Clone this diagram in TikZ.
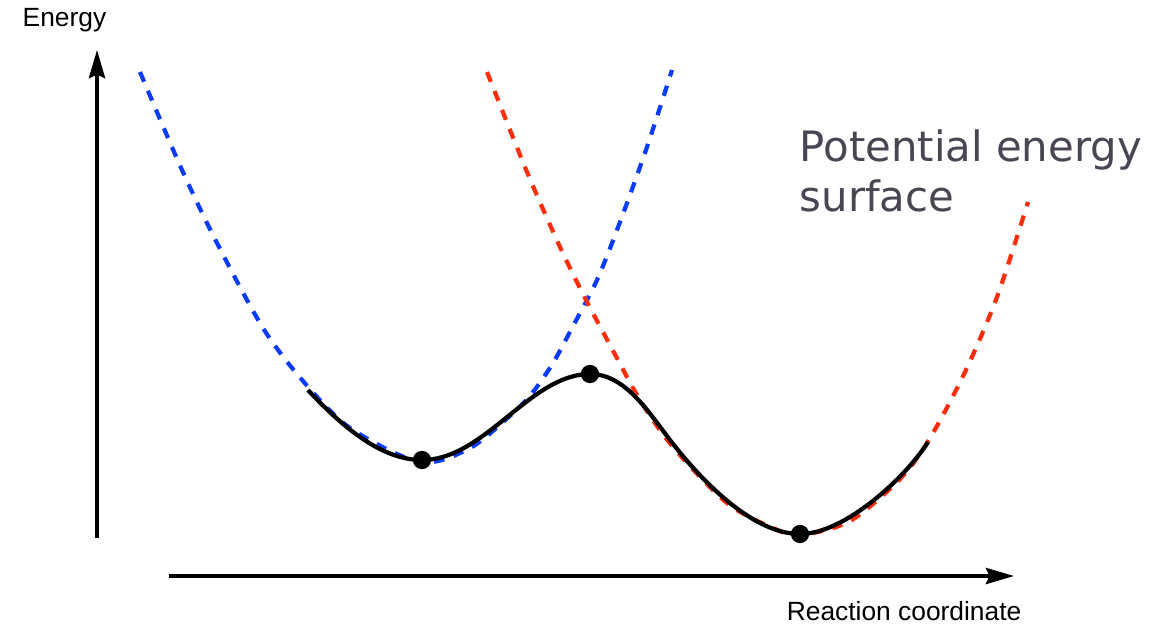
\documentclass[tikz,border=0pt]{standalone}
\usepackage{fontspec}
\usepackage{xcolor}
\usetikzlibrary{arrows.meta, positioning, calc}
\newfontfamily\axisfont{Liberation Sans}
\newfontfamily\pesfont{DejaVu Sans}
\definecolor{PESBlue}{HTML}{0A3CFF}
\definecolor{PESRed}{HTML}{FF2D0A}
\definecolor{PESGray}{HTML}{4A4453}
\tikzset{
    axisarrow/.style={
        -{Stealth[length=8pt, width=4.6pt, inset=1pt]},
        line width=1pt,
        black
    },
    axislabel/.style={
        font=\axisfont\fontsize{7.5}{9}\selectfont,
        inner sep=0pt
    },
    diabatic/.style={
        draw=#1,
        line width=1.2pt,
        dash pattern=on 3pt off 2.8pt
    },
    diabatic/.default=PESBlue,
    pescurve/.style={
        draw=black,
        line width=1.2pt
    },
    stationary/.style={
        circle,
        fill=black,
        minimum size=5.2pt,
        inner sep=0pt
    }
}

\begin{document}
\begin{tikzpicture}
    \useasboundingbox (0,0) rectangle (11.55,6.25);

    % Axes
    \coordinate (origin) at (0.97,0.87);
    \coordinate (etop) at (0.97,5.75);
    \coordinate (rstart) at (1.69,0.49);
    \coordinate (rend) at (10.14,0.49);
    \draw[axisarrow] (origin) -- (etop);
    \draw[axisarrow] (rstart) -- (rend);
    \node[axislabel, anchor=base west] (energy) at (0.22,5.99) {Energy};
    \node[axislabel, anchor=base east] (reaction) at (10.22,0.05) {Reaction coordinate};

    % Diabatic curves
    \draw[diabatic=PESBlue] plot[smooth] coordinates {
        (1.40,5.53) (1.82,4.55) (2.17,3.82) (2.63,2.97) (3.03,2.44)
        (3.50,1.97) (4.20,1.63) (4.70,1.77) (5.13,2.12) (5.33,2.33)
        (5.53,2.62) (5.72,2.97) (5.97,3.45) (6.20,4.03) (6.47,4.78)
        (6.72,5.55)};
    \draw[diabatic=PESRed] plot[smooth] coordinates {
        (4.87,5.53) (5.27,4.53) (5.60,3.78) (5.85,3.27) (6.10,2.80)
        (6.40,2.25) (6.73,1.78) (7.27,1.22) (7.73,0.97) (8.00,0.90)
        (8.50,1.04) (9.00,1.46) (9.30,1.87) (9.65,2.53) (9.97,3.28)
        (10.28,4.23)};

    % Adiabatic surface
    \node[stationary] (min1) at (4.22,1.65) {};
    \node[stationary] (ts) at (5.90,2.51) {};
    \node[stationary] (min2) at (8.00,0.91) {};
    \coordinate (sstart) at (3.08,2.35);
    \coordinate (sbend) at (6.70,1.85);
    \coordinate (send) at (9.28,1.83);
    \draw[pescurve] (sstart) .. controls (3.46,1.94) and (3.84,1.65) .. (min1.center)
        .. controls (4.85,1.65) and (5.30,2.51) .. (ts.center)
        .. controls (6.25,2.51) and (6.48,2.136) .. (sbend)
        .. controls (7.05,1.395) and (7.55,0.91) .. (min2.center)
        .. controls (8.45,0.91) and (9.06,1.48) .. (send);

    % Label
    \node[anchor=north west, align=left, text=PESGray, inner sep=0pt,
          font=\pesfont\fontsize{11.9}{14.2}\selectfont] (pes) at (7.99,4.96)
          {Potential energy\\surface};
\end{tikzpicture}
\end{document}
